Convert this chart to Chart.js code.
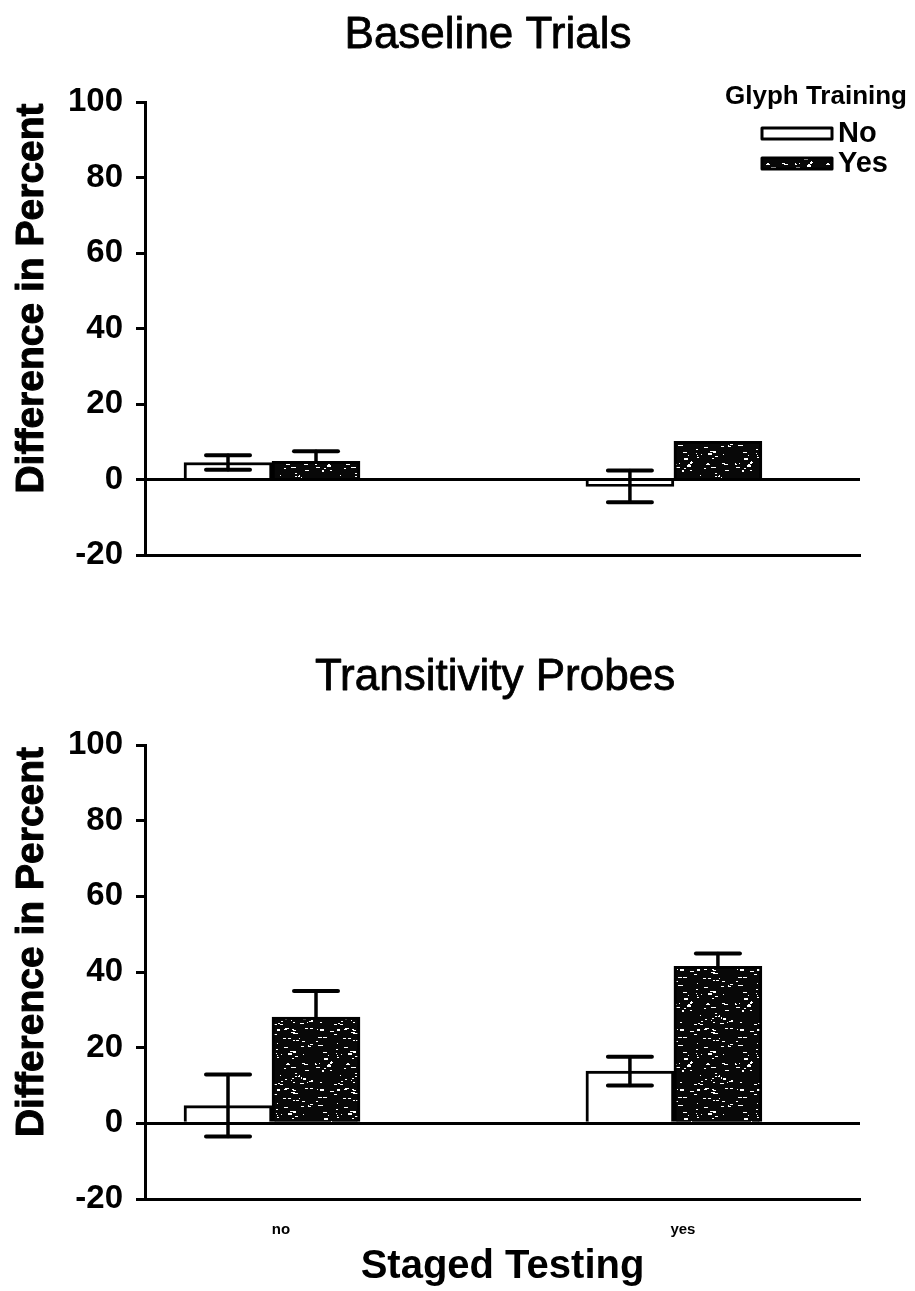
<!DOCTYPE html>
<html>
<head>
<meta charset="utf-8">
<script src="https://cdn.jsdelivr.net/npm/chart.js@4.4.1/dist/chart.umd.min.js"></script>
<style>
  html, body { margin: 0; padding: 0; background: #fff; }
  canvas { display: block; }
</style>
</head>
<body>
<canvas id="baseline" width="915" height="600"></canvas>
<canvas id="probes" width="915" height="691"></canvas>
<script>
// groups on the x axis and the two glyph training series
const stagedTesting = ['no', 'yes'];
const stagePositions = [0, 1];
const glyphTraining = ['No', 'Yes'];

// Baseline Trials
const baselineNo = [4.5, -1.8];
const baselineNoErr = [1.9, 4.2];
const baselineYes = [4.8, 10.1];
const baselineYesErr = [2.7, 0];

// Transitivity Probes
const probesNo = [4.7, 13.8];
const probesNoErr = [8.2, 3.8];
const probesYes = [28.1, 41.5];
const probesYesErr = [6.9, 3.4];

const FONT = '"Liberation Sans", Arial, Helvetica, sans-serif';

// black fill with little white flecks, like the printed screen tone
function speckle() {
    const c = document.createElement('canvas');
    c.width = 60; c.height = 60;
    const g = c.getContext('2d');
    g.fillStyle = '#080808';
    g.fillRect(0, 0, 60, 60);
    let s = 12345;
    const rnd = () => (s = (s * 16807) % 2147483647) / 2147483647;
    g.fillStyle = '#fff';
    for (let i = 0; i < 90; i++) {
        g.fillRect(Math.floor(rnd() * 60), Math.floor(rnd() * 60), 1 + Math.floor(rnd() * 4), 1 + Math.floor(rnd() * 1.4));
    }
    return g.createPattern(c, 'repeat');
}
const darkFill = speckle();

const errorBars = {
    id: 'errorBars',
    afterDatasetsDraw(chart) {
        const { ctx } = chart;
        const y = chart.scales.y;
        ctx.save();
        ctx.strokeStyle = '#000';
        ctx.lineCap = 'round';
        chart.data.datasets.forEach((ds, di) => {
            chart.getDatasetMeta(di).data.forEach((bar, i) => {
                const v = ds.data[i].y, e = ds.errors[i];
                if (!e) return;
                const hi = y.getPixelForValue(v + e);
                const lo = y.getPixelForValue(ds.errorBelow ? v - e : v);
                ctx.lineWidth = 3.5;
                ctx.beginPath();
                ctx.moveTo(bar.x, hi);
                ctx.lineTo(bar.x, lo);
                ctx.stroke();
                ctx.lineWidth = 4;
                ctx.beginPath();
                ctx.moveTo(bar.x - 22, hi);
                ctx.lineTo(bar.x + 22, hi);
                if (ds.errorBelow) {
                    ctx.moveTo(bar.x - 22, lo);
                    ctx.lineTo(bar.x + 22, lo);
                }
                ctx.stroke();
            });
        });
        ctx.restore();
    }
};

// text with a hairline outline to thicken the stroke a little
function heavyText(ctx, text, x, y, w) {
    ctx.fillText(text, x, y);
    ctx.lineWidth = w;
    ctx.strokeStyle = '#000';
    ctx.strokeText(text, x, y);
}

const decorations = {
    id: 'decorations',
    afterDraw(chart, args, opts) {
        const { ctx, chartArea } = chart;
        ctx.save();
        ctx.fillStyle = '#000';
        ctx.textAlign = 'center';
        ctx.textBaseline = 'middle';
        ctx.lineJoin = 'round';
        ctx.font = '44px ' + FONT;
        heavyText(ctx, opts.title, opts.titleX, opts.titleY, 0.8);

        if (opts.legend) {
            ctx.font = 'bold 26px ' + FONT;
            ctx.fillText('Glyph Training', 816, 97);
            const ds = chart.data.datasets;
            [133, 163].forEach((cy, i) => {
                ctx.fillStyle = ds[i].backgroundColor;
                ctx.fillRect(762, cy - 5, 70, 11);
                ctx.strokeStyle = '#000';
                ctx.lineWidth = 3;
                ctx.strokeRect(762, cy - 5, 70, 11);
                ctx.fillStyle = '#000';
                ctx.textAlign = 'left';
                ctx.font = 'bold 29px ' + FONT;
                ctx.fillText(ds[i].label, 838, cy + 1);
            });
        }

        ctx.translate(32, (chartArea.top + chartArea.bottom) / 2 - 30);
        ctx.rotate(-Math.PI / 2);
        ctx.textAlign = 'center';
        ctx.font = 'bold 39px ' + FONT;
        heavyText(ctx, 'Difference in Percent', 0, 0, 1);
        ctx.restore();
    }
};

function makeChart(id, cfg) {
    return new Chart(document.getElementById(id), {
        type: 'bar',
        data: {
            datasets: [
                {
                    label: glyphTraining[0],
                    data: stagePositions.map((x, i) => ({ x, y: cfg.no[i] })),
                    errors: cfg.noErr,
                    errorBelow: true,
                    backgroundColor: '#fff',
                    borderColor: '#000',
                    borderWidth: 3,
                    barThickness: 88
                },
                {
                    label: glyphTraining[1],
                    data: stagePositions.map((x, i) => ({ x, y: cfg.yes[i] })),
                    errors: cfg.yesErr,
                    errorBelow: false,
                    backgroundColor: darkFill,
                    borderColor: '#000',
                    borderWidth: 3,
                    barThickness: 88
                }
            ]
        },
        options: {
            responsive: false,
            animation: false,
            layout: { padding: { top: cfg.top, right: 55, left: 0, bottom: 0 } },
            plugins: {
                legend: { display: false },
                tooltip: { enabled: false },
                decorations: { title: cfg.title, titleX: cfg.titleX, titleY: cfg.titleY, legend: cfg.legend }
            },
            scales: {
                x: {
                    type: 'linear',
                    min: -0.316,
                    max: 1.463,
                    offset: false,
                    afterBuildTicks: s => { s.ticks = stagePositions.map(v => ({ value: v })); },
                    afterFit: s => { s.height = cfg.xHeight; },
                    grid: { display: false, drawTicks: false, offset: false },
                    border: { display: true, color: '#000', width: 3 },
                    ticks: {
                        display: cfg.showX,
                        padding: 22,
                        labelOffset: 9,
                        color: '#000',
                        font: { family: FONT, size: 15, weight: 'bold' },
                        callback: v => stagedTesting[stagePositions.indexOf(v)] ?? ''
                    },
                    title: {
                        display: cfg.showX,
                        text: 'Staged Testing',
                        color: '#000',
                        font: { family: FONT, size: 40, weight: 'bold' },
                        padding: { top: 0, bottom: 0 }
                    }
                },
                y: {
                    min: -20,
                    max: 100,
                    afterFit: s => { s.width = 145; },
                    border: { display: true, color: '#000', width: 3 },
                    grid: {
                        drawOnChartArea: true,
                        color: c => (c.tick && c.tick.value === 0 ? '#000' : 'rgba(0,0,0,0)'),
                        lineWidth: 3,
                        tickColor: '#000',
                        tickWidth: 3,
                        tickLength: 9
                    },
                    ticks: {
                        stepSize: 20,
                        padding: 13,
                        color: '#000',
                        font: { family: FONT, size: 33, weight: 'bold' }
                    }
                }
            }
        },
        plugins: [errorBars, decorations]
    });
}

makeChart('baseline', {
    no: baselineNo, noErr: baselineNoErr, yes: baselineYes, yesErr: baselineYesErr,
    title: 'Baseline Trials', titleX: 488, titleY: 36, legend: true,
    top: 102, xHeight: 45, showX: false
});

makeChart('probes', {
    no: probesNo, noErr: probesNoErr, yes: probesYes, yesErr: probesYesErr,
    title: 'Transitivity Probes', titleX: 495, titleY: 78, legend: false,
    top: 145, xHeight: 92, showX: true
});
</script>
</body>
</html>
